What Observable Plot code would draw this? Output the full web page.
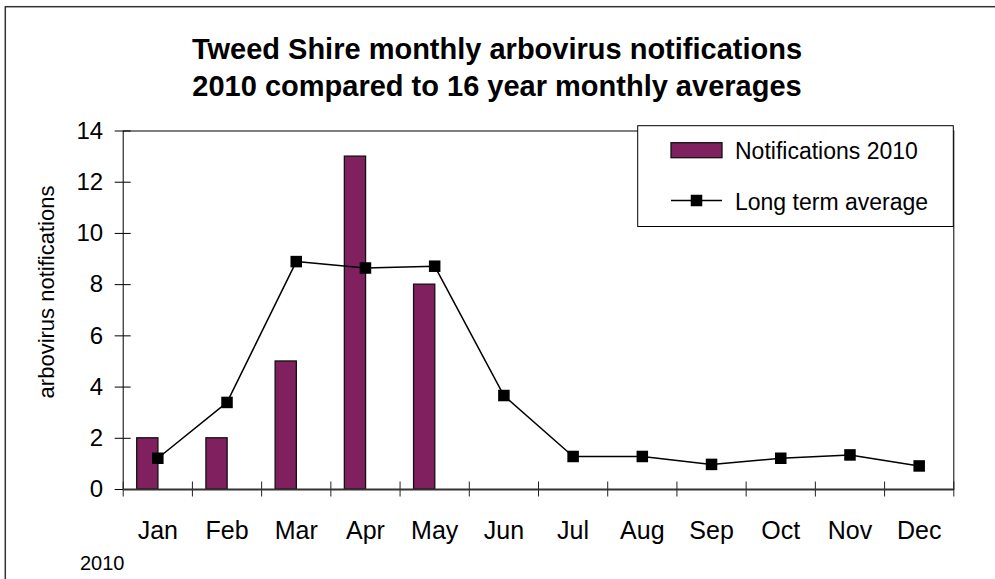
<!DOCTYPE html>
<html><head><meta charset="utf-8">
<script src="https://cdn.jsdelivr.net/npm/d3@7"></script>
<script src="https://cdn.jsdelivr.net/npm/@observablehq/plot@0.6"></script>
<style>
  body { margin: 0; background: #fff; }
  #chart { width: 995px; height: 579px; }
</style>
</head><body>
<div id="chart"></div>
<script>
// ---- data ----
const months = ["Jan","Feb","Mar","Apr","May","Jun","Jul","Aug","Sep","Oct","Nov","Dec"];
const notifications2010 = [2, 2, 5, 13, 8, 0, 0, 0, 0, 0, 0, 0];
const longTermAverage = [1.22, 3.4, 8.9, 8.65, 8.72, 3.67, 1.29, 1.29, 0.98, 1.22, 1.35, 0.92];
const yTicks = [0, 2, 4, 6, 8, 10, 12, 14];
const titleLines = ["Tweed Shire monthly arbovirus notifications", "2010 compared to 16 year monthly averages"];
const seriesNames = ["Notifications 2010", "Long term average"];
const yLabel = "arbovirus notifications";
const footnote = "2010";

// ---- style ----
const barColor = "#80205f";
const font = "'Liberation Sans', Arial, Helvetica, sans-serif";

const data = months.map((m, i) => ({ month: m, i, n: notifications2010[i], avg: longTermAverage[i] }));
const monthCenters = months.map((m, i) => i + 0.5);
const boundaries = d3.range(months.length + 1);

const svg = Plot.plot({
  width: 995,
  height: 579,
  marginLeft: 122.7,
  marginRight: 41.7,
  marginTop: 130.5,
  marginBottom: 90,
  style: { fontFamily: font, background: "transparent", color: "black", overflow: "visible" },
  x: { domain: [0, months.length], axis: null },
  y: { domain: [0, 14], axis: null },
  marks: [
    Plot.rectY(data.filter(d => d.n > 0), {
      x1: d => d.i, x2: d => d.i + 1, y1: 0, y2: "n",
      insetLeft: 14, insetRight: 34,
      fill: barColor, stroke: "#111", strokeWidth: 1.3
    }),
    Plot.frame({ stroke: "black", strokeWidth: 1 }),
    Plot.axisY(yTicks, { tickSize: 16, dx: 8, fill: "none", stroke: "black", label: null }),
    Plot.axisY(yTicks, { tickSize: 0, tickPadding: 20, fontSize: 24, label: null }),
    Plot.axisX(boundaries, { tickSize: 15, dy: -7.5, fill: "none", stroke: "#222", label: null }),
    Plot.ruleY([0], { x1: 0, x2: months.length, stroke: "#333", strokeWidth: 2 }),
    Plot.axisX(monthCenters, { tickFormat: d => months[Math.floor(d)], tickSize: 0, tickPadding: 32, fontSize: 25, label: null }),
    Plot.line(data, { x: d => d.i + 0.5, y: "avg", stroke: "black", strokeWidth: 1.5 }),
    Plot.dot(data, { x: d => d.i + 0.5, y: "avg", symbol: "square", r: 6.5, fill: "black", stroke: "none" })
  ]
});

document.getElementById("chart").appendChild(svg);
const s = d3.select(svg);

// outer chart border
s.insert("rect", ":first-child")
  .attr("x", 5.3).attr("y", 6.7).attr("width", 1000).attr("height", 600)
  .attr("fill", "white").attr("stroke", "#333").attr("stroke-width", 1.5);

// title
s.append("text")
  .attr("text-anchor", "middle")
  .attr("font-family", font).attr("font-weight", "bold").attr("font-size", 29)
  .selectAll("tspan").data(titleLines).join("tspan")
  .attr("x", 497).attr("y", (d, i) => 58.5 + i * 37).text(d => d);

// y label
s.append("text")
  .attr("transform", "translate(54,292) rotate(-90)")
  .attr("text-anchor", "middle")
  .attr("font-family", font).attr("font-size", 22)
  .text(yLabel);

// footnote
s.append("text")
  .attr("x", 80).attr("y", 570)
  .attr("text-anchor", "start")
  .attr("font-family", font).attr("font-size", 20)
  .text(footnote);

// legend
const lg = s.append("g");
lg.append("rect").attr("x", 637.7).attr("y", 125.7).attr("width", 315.6).attr("height", 100.8)
  .attr("fill", "white").attr("stroke", "black").attr("stroke-width", 1);
lg.append("rect").attr("x", 671).attr("y", 142.7).attr("width", 51).attr("height", 15)
  .attr("fill", barColor).attr("stroke", "#111").attr("stroke-width", 1.3);
lg.append("line").attr("x1", 671).attr("x2", 722).attr("y1", 200.5).attr("y2", 200.5)
  .attr("stroke", "black").attr("stroke-width", 1.5);
lg.append("rect").attr("x", 696.5 - 5.75).attr("y", 200.5 - 5.75).attr("width", 11.5).attr("height", 11.5)
  .attr("fill", "black");
lg.selectAll("text.lbl").data(seriesNames).join("text")
  .attr("class", "lbl")
  .attr("x", 735).attr("y", (d, i) => i === 0 ? 159 : 209.5)
  .attr("text-anchor", "start")
  .attr("font-family", font).attr("font-size", 23)
  .text(d => d);
</script>
</body></html>
